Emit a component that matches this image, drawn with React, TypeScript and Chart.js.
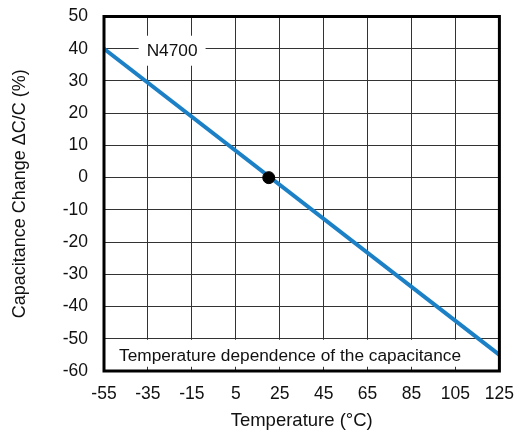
import React, { useEffect, useRef } from "react";
import { Chart, registerables } from "chart.js";

Chart.register(...registerables);

const tempC = [-55, 125];
const capChange = [40, -55];
const refTemp = [20];
const refChange = [0];
const xTicks = [-55, -35, -15, 5, 25, 45, 65, 85, 105, 125];
const yTicks = [-60, -50, -40, -30, -20, -10, 0, 10, 20, 30, 40, 50];
const seriesLabel = "N4700";
const chartNote = "Temperature dependence of the capacitance";
const xTitle = "Temperature (°C)";
const yTitle = "Capacitance Change ΔC/C (%)";

const FONT = 'Arial, "Liberation Sans", sans-serif';

const annotPlugin = {
  id: "annot",
  beforeDatasetsDraw(chart: any) {
    const { ctx, chartArea, scales } = chart;
    const x = scales.x;
    const y = scales.y;
    ctx.save();
    ctx.font = `17.3px ${FONT}`;
    ctx.textBaseline = "middle";
    // series label box
    const lx = x.getPixelForValue(-24);
    const ly = y.getPixelForValue(40);
    const w = ctx.measureText(seriesLabel).width;
    ctx.fillStyle = "#fff";
    ctx.fillRect(lx - w / 2 - 8, ly - 13, w + 16, 30);
    ctx.fillStyle = "#111";
    ctx.textAlign = "center";
    ctx.fillText(seriesLabel, lx, ly + 3);
    // note box
    const ny = y.getPixelForValue(-55);
    const tx = chartArea.left + 15;
    const nw = ctx.measureText(chartNote).width;
    ctx.fillStyle = "#fff";
    ctx.fillRect(chartArea.left, y.getPixelForValue(-50) + 1, tx - chartArea.left + nw + 6, 27);
    ctx.fillStyle = "#111";
    ctx.textAlign = "left";
    ctx.fillText(chartNote, tx, ny + 1);
    ctx.restore();
  },
  afterDatasetsDraw(chart: any) {
    const { ctx, chartArea } = chart;
    ctx.save();
    ctx.strokeStyle = "#000";
    ctx.lineWidth = 3;
    ctx.strokeRect(
      chartArea.left,
      chartArea.top,
      chartArea.right - chartArea.left,
      chartArea.bottom - chartArea.top
    );
    ctx.restore();
  },
};

export default function App() {
  const ref = useRef<HTMLCanvasElement>(null);
  useEffect(() => {
    if (!ref.current) return;
    const chart = new Chart(ref.current, {
      type: "scatter",
      data: {
        datasets: [
          {
            label: seriesLabel,
            data: tempC.map((t, i) => ({ x: t, y: capChange[i] })),
            showLine: true,
            borderColor: "#1b80c6",
            borderWidth: 4,
            pointRadius: 0,
            order: 2,
          },
          {
            label: "ref",
            data: refTemp.map((t, i) => ({ x: t, y: refChange[i] })),
            showLine: false,
            backgroundColor: "#000",
            borderColor: "#000",
            pointRadius: 6,
            order: 1,
          },
        ],
      },
      options: {
        animation: false,
        responsive: true,
        maintainAspectRatio: false,
        layout: { padding: { top: 5, right: 7, left: 0, bottom: 0 } },
        plugins: { legend: { display: false }, tooltip: { enabled: false } },
        scales: {
          x: {
            type: "linear",
            min: -55,
            max: 125,
            afterBuildTicks: (s: any) => {
              s.ticks = xTicks.map((v) => ({ value: v }));
            },
            afterFit: (s: any) => {
              s.height = 66;
            },
            grid: { color: "#333", lineWidth: 1, drawTicks: false },
            border: { display: false },
            ticks: {
              padding: 13,
              color: "#111",
              font: { family: FONT, size: 17.5 },
              maxRotation: 0,
              autoSkip: false,
            },
            title: {
              display: true,
              text: xTitle,
              color: "#111",
              font: { family: FONT, size: 18.5 },
              padding: { top: 0, bottom: 5 },
            },
          },
          y: {
            type: "linear",
            min: -60,
            max: 50,
            afterBuildTicks: (s: any) => {
              s.ticks = yTicks.map((v) => ({ value: v }));
            },
            afterFit: (s: any) => {
              s.width = 104;
            },
            grid: { color: "#333", lineWidth: 1, drawTicks: false },
            border: { display: false },
            ticks: {
              padding: 16,
              color: "#111",
              font: { family: FONT, size: 17.5 },
              autoSkip: false,
            },
            title: {
              display: true,
              text: yTitle,
              color: "#111",
              font: { family: FONT, size: 18 },
              padding: { top: 9, bottom: 0 },
            },
          },
        },
      },
      plugins: [annotPlugin],
    });
    return () => chart.destroy();
  }, []);
  return (
    <div style={{ position: "fixed", left: 0, top: 0, width: 516, height: 437, overflow: "hidden", background: "#fff" }}>
      <div style={{ position: "absolute", left: 0, top: -10, width: 527, height: 447 }}>
        <canvas ref={ref} />
      </div>
    </div>
  );
}
